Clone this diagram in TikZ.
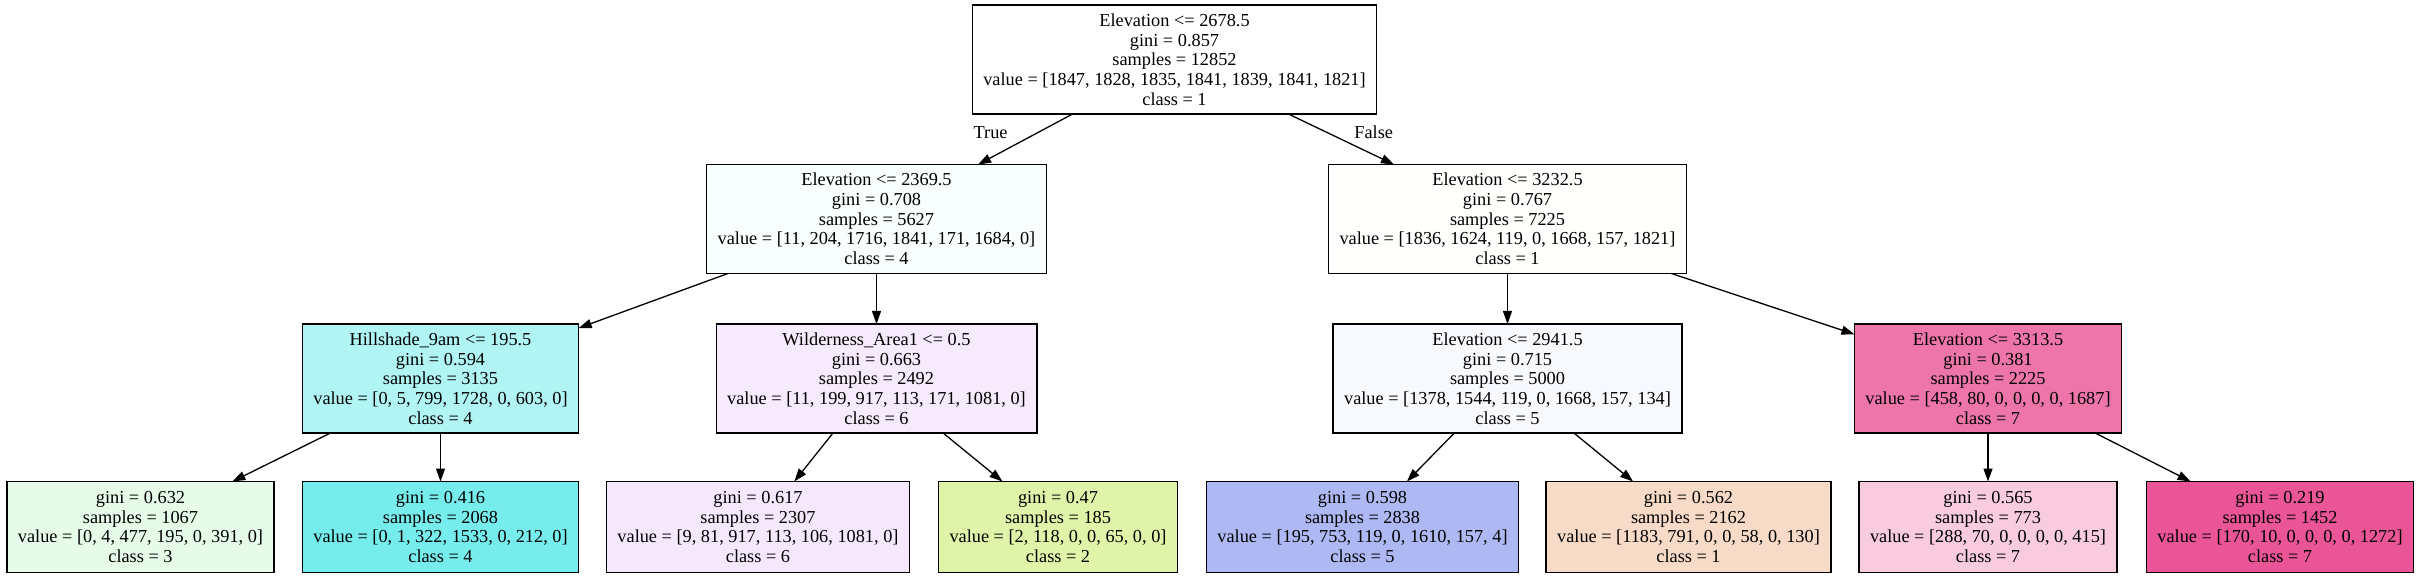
\documentclass[tikz,border=0pt]{standalone}
\usepackage{fontspec}
\setmainfont{Liberation Serif}
\usepackage{tikz}
\usetikzlibrary{trees,arrows.meta,positioning}
\tikzset{
treenode/.style = {rectangle, minimum height=#1, inner xsep=11pt, inner ysep=0pt, outer sep=0pt, align=center, line width=1.3pt},
treenode/.default = 109pt % height of a box with five lines
}
\definecolor{cyanpale}{RGB}{249,254,254}
\definecolor{whitish}{RGB}{255,255,254}
\definecolor{cyanmid}{RGB}{176,245,244}
\definecolor{cyandeep}{RGB}{118,237,236}
\definecolor{lilac}{RGB}{247,234,252}
\definecolor{lilacleaf}{RGB}{246,232,252}
\definecolor{bluepale}{RGB}{248,249,254}
\definecolor{bluemid}{RGB}{174,185,244}
\definecolor{pinkmid}{RGB}{237,117,170}
\definecolor{pinkpale}{RGB}{248,203,223}
\definecolor{pinkdeep}{RGB}{233,85,150}
\definecolor{greenpale}{RGB}{230,252,233}
\definecolor{olivepale}{RGB}{223,244,168}
\definecolor{peach}{RGB}{248,219,198}
\begin{document}
\begin{tikzpicture}[font=\fontsize{18.3pt}{19.7pt}\selectfont,
      level distance=159.5pt,
      level 1/.style={sibling distance=631pt},
      level 2/.style={sibling distance=436pt},
      level 3/.style={sibling distance=300pt, level distance=148.5pt},
      edge from parent/.style={draw, line width=1.3pt, -{Triangle[length=13pt,width=9pt]}}]
      \useasboundingbox (0,0) rectangle (2420pt,-577pt);
      \node [treenode, draw, fill=white] (root) at (1174.5pt,-59.5pt)
        {Elevation <= 2678.5\\gini = 0.857\\samples = 12852\\value = [1847, 1828, 1835, 1841, 1839, 1841, 1821]\\class = 1}
        child [xshift=17.5pt]
        {
            node [treenode, draw, fill=cyanpale] (elevA)
              {Elevation <= 2369.5\\gini = 0.708\\samples = 5627\\value = [11, 204, 1716, 1841, 171, 1684, 0]\\class = 4}
            child
            {
                node [treenode, draw, fill=cyanmid] (hill)
                  {Hillshade\_9am <= 195.5\\gini = 0.594\\samples = 3135\\value = [0, 5, 799, 1728, 0, 603, 0]\\class = 4}
                child
                {
                    node [treenode=91pt, draw, fill=greenpale] (leafA)
                      {gini = 0.632\\samples = 1067\\value = [0, 4, 477, 195, 0, 391, 0]\\class = 3}
                }
                child
                {
                    node [treenode=91pt, draw, fill=cyandeep] (leafB)
                      {gini = 0.416\\samples = 2068\\value = [0, 1, 322, 1533, 0, 212, 0]\\class = 4}
                }
                child [missing]
            }
            child
            {
                node [treenode, draw, fill=lilac] (wild)
                  {Wilderness\_Area1 <= 0.5\\gini = 0.663\\samples = 2492\\value = [11, 199, 917, 113, 171, 1081, 0]\\class = 6}
                child [xshift=31.5pt]
                {
                    node [treenode=91pt, draw, fill=lilacleaf] (leafC)
                      {gini = 0.617\\samples = 2307\\value = [9, 81, 917, 113, 106, 1081, 0]\\class = 6}
                }
                child [xshift=31.5pt]
                {
                    node [treenode=91pt, draw, fill=olivepale] (leafD)
                      {gini = 0.47\\samples = 185\\value = [2, 118, 0, 0, 65, 0, 0]\\class = 2}
                }
            }
            child [missing]
            edge from parent node [pos=0.36, left=27pt] {True}
        }
        child [xshift=17.5pt]
        {
            node [treenode, draw, fill=whitish] (elevB)
              {Elevation <= 3232.5\\gini = 0.767\\samples = 7225\\value = [1836, 1624, 119, 0, 1668, 157, 1821]\\class = 1}
            child [missing]
            child
            {
                node [treenode, draw, fill=bluepale] (elevC)
                  {Elevation <= 2941.5\\gini = 0.715\\samples = 5000\\value = [1378, 1544, 119, 0, 1668, 157, 134]\\class = 5}
                child [xshift=5pt]
                {
                    node [treenode=91pt, draw, fill=bluemid] (leafE)
                      {gini = 0.598\\samples = 2838\\value = [195, 753, 119, 0, 1610, 157, 4]\\class = 5}
                }
                child [xshift=31pt]
                {
                    node [treenode=91pt, draw, fill=peach] (leafF)
                      {gini = 0.562\\samples = 2162\\value = [1183, 791, 0, 0, 58, 0, 130]\\class = 1}
                }
            }
            child [xshift=44.5pt]
            {
                node [treenode, draw, fill=pinkmid] (elevD)
                  {Elevation <= 3313.5\\gini = 0.381\\samples = 2225\\value = [458, 80, 0, 0, 0, 0, 1687]\\class = 7}
                child [missing]
                child
                {
                    node [treenode=91pt, draw, fill=pinkpale] (leafG)
                      {gini = 0.565\\samples = 773\\value = [288, 70, 0, 0, 0, 0, 415]\\class = 7}
                }
                child [xshift=-8pt]
                {
                    node [treenode=91pt, draw, fill=pinkdeep] (leafH)
                      {gini = 0.219\\samples = 1452\\value = [170, 10, 0, 0, 0, 0, 1272]\\class = 7}
                }
            }
            edge from parent node [pos=0.36, right=24pt] {False}
        };
\end{tikzpicture}
\end{document}
